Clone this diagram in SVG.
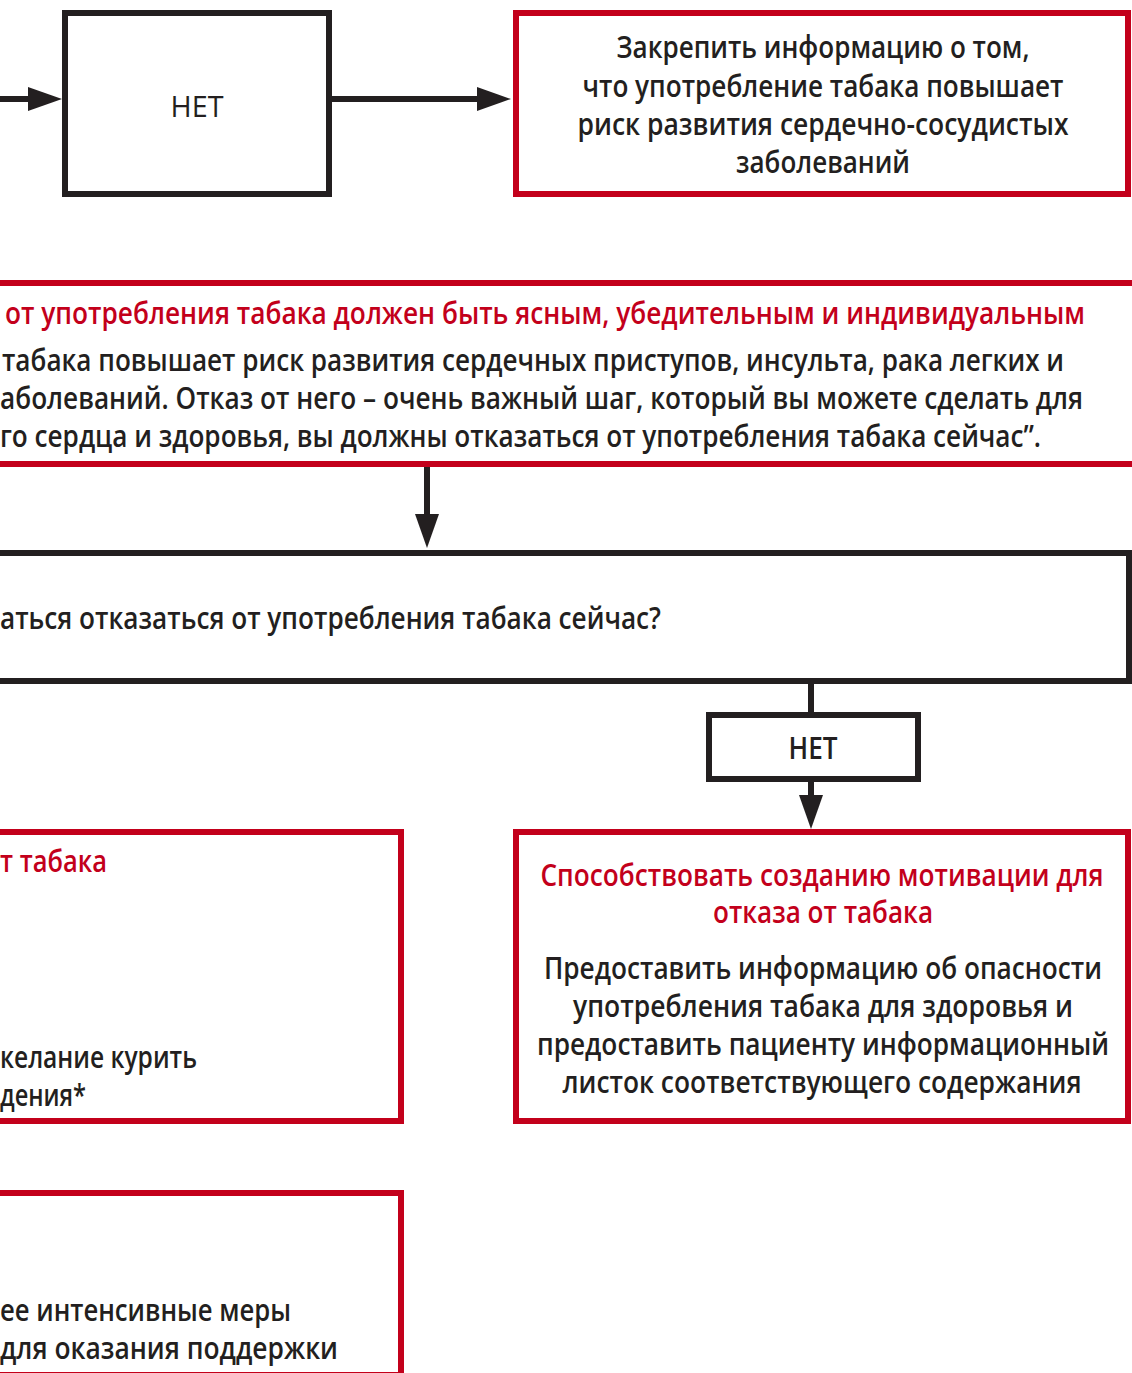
<svg xmlns="http://www.w3.org/2000/svg" width="1132" height="1373" viewBox="0 0 1132 1373">
<style>
.bk{fill:none;stroke:#231f20;stroke-width:6}
.rd{fill:none;stroke:#c3001b;stroke-width:6}
.conn{fill:none;stroke:#231f20;stroke-width:6}
text{font-family:"Open Sans","Noto Sans",sans-serif;font-size:30px;font-weight:600;fill:#231f20}
.r{fill:#c3001b}
.reg{font-weight:400}
.c{text-anchor:middle}
</style>
<defs>
<marker id="ah" markerUnits="userSpaceOnUse" markerWidth="34" markerHeight="24" refX="4" refY="12" orient="auto">
<path d="M0,0 L34,12 L0,24 Z" fill="#231f20"/>
</marker>
</defs>
<rect width="1132" height="1373" fill="#fff"/>
<g id="connectors">
<path class="conn" d="M-10 99 H32" marker-end="url(#ah)"/>
<path class="conn" d="M332 99 H481" marker-end="url(#ah)"/>
<path class="conn" d="M427 467 V518" marker-end="url(#ah)"/>
<path class="conn" d="M811 684 V712"/>
<path class="conn" d="M811 782 V799" marker-end="url(#ah)"/>
</g>
<g id="node-net-top">
<rect class="bk" x="65" y="13" width="264" height="181"/>
<text class="reg c" x="197" y="117" textLength="53" lengthAdjust="spacingAndGlyphs">НЕТ</text>
</g>
<g id="node-reinforce">
<rect class="rd" x="516" y="13" width="612" height="181"/>
<text class="c" x="823" y="58" textLength="413" lengthAdjust="spacingAndGlyphs">Закрепить информацию о том,</text>
<text class="c" x="823" y="97" textLength="481" lengthAdjust="spacingAndGlyphs">что употребление табака повышает</text>
<text class="c" x="823" y="135" textLength="491" lengthAdjust="spacingAndGlyphs">риск развития сердечно-сосудистых</text>
<text class="c" x="823" y="173" textLength="174" lengthAdjust="spacingAndGlyphs">заболеваний</text>
</g>
<g id="node-advice">
<rect class="rd" x="-20" y="283" width="1180" height="181"/>
<text class="r" x="5" y="324" textLength="1080" lengthAdjust="spacingAndGlyphs">от употребления табака должен быть ясным, убедительным и индивидуальным</text>
<text x="2" y="371" textLength="1062" lengthAdjust="spacingAndGlyphs">табака повышает риск развития сердечных приступов, инсульта, рака легких и</text>
<text x="0" y="409" textLength="1083" lengthAdjust="spacingAndGlyphs">аболеваний. Отказ от него – очень важный шаг, который вы можете сделать для</text>
<text x="0" y="447" textLength="1041" lengthAdjust="spacingAndGlyphs">го сердца и здоровья, вы должны отказаться от употребления табака сейчас”.</text>
</g>
<g id="node-question">
<rect class="bk" x="-20" y="553" width="1149" height="128"/>
<text x="0" y="629" textLength="661" lengthAdjust="spacingAndGlyphs">аться отказаться от употребления табака сейчас?</text>
</g>
<g id="node-net-small">
<rect class="bk" x="709" y="715" width="209" height="64"/>
<text class="c" x="813" y="759" textLength="49" lengthAdjust="spacingAndGlyphs">НЕТ</text>
</g>
<g id="node-help-quit">
<rect class="rd" x="-20" y="832" width="421" height="289"/>
<text class="r" x="0" y="872" textLength="107" lengthAdjust="spacingAndGlyphs">т табака</text>
<text x="0" y="1068" textLength="197" lengthAdjust="spacingAndGlyphs">келание курить</text>
<text x="0" y="1106" textLength="86" lengthAdjust="spacingAndGlyphs">дения*</text>
</g>
<g id="node-motivation">
<rect class="rd" x="516" y="832" width="612" height="289"/>
<text class="r c" x="822" y="886" textLength="563" lengthAdjust="spacingAndGlyphs">Способствовать созданию мотивации для</text>
<text class="r c" x="823" y="923" textLength="220" lengthAdjust="spacingAndGlyphs">отказа от табака</text>
<text class="c" x="823" y="979" textLength="558" lengthAdjust="spacingAndGlyphs">Предоставить информацию об опасности</text>
<text class="c" x="823" y="1017" textLength="500" lengthAdjust="spacingAndGlyphs">употребления табака для здоровья и</text>
<text class="c" x="823" y="1055" textLength="572" lengthAdjust="spacingAndGlyphs">предоставить пациенту информационный</text>
<text class="c" x="822" y="1093" textLength="519" lengthAdjust="spacingAndGlyphs">листок соответствующего содержания</text>
</g>
<g id="node-intensive">
<rect class="rd" x="-20" y="1193" width="421" height="182"/>
<text x="0" y="1321" textLength="291" lengthAdjust="spacingAndGlyphs">ее интенсивные меры</text>
<text x="0" y="1359" textLength="338" lengthAdjust="spacingAndGlyphs">для оказания поддержки</text>
</g>
</svg>
